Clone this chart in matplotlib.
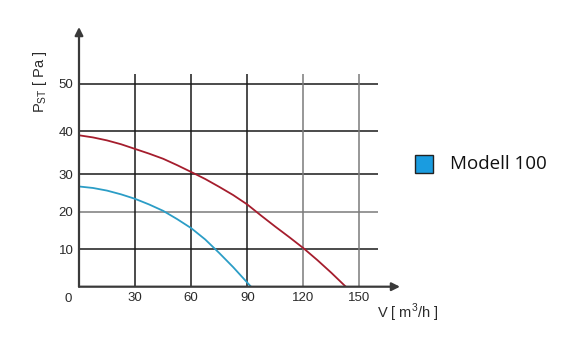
import matplotlib.pyplot as plt
import numpy as np
from matplotlib.patches import Rectangle

# curve readings (V in m3/h, P in Pa)
v_red = [0, 7.5, 15, 22.5, 30, 37.5, 45, 52.5, 60, 67.5, 75, 82.5, 90,
         97.5, 105, 112.5, 120, 127.5, 135, 142.7]
p_red = [39.1, 38.6, 37.9, 37.0, 35.9, 34.8, 33.6, 32.1, 30.5, 28.7, 26.6, 24.4, 21.9,
         18.9, 16.0, 13.2, 10.3, 7.1, 3.7, 0]
v_blue = [0, 7.5, 15, 22.5, 30, 37.5, 45, 52.5, 60, 67.5, 75, 82.5, 92]
p_blue = [26.7, 26.3, 25.6, 24.6, 23.4, 21.9, 20.2, 18.0, 15.6, 12.6, 9.0, 5.2, 0]

x_ticks = [30, 60, 90, 120, 150]
y_ticks = [10, 20, 30, 40, 50]
legend_label = 'Modell 100'

# the original drawing has an uneven pressure axis
y_data = [-10, 0, 10, 20, 30, 40, 50, 100]
y_pix = [-37.4, 0, 37.4, 75.0, 112.4, 155.0, 202.4, 439.4]


def fwd(y):
    return np.interp(y, y_data, y_pix)


def inv(p):
    return np.interp(p, y_pix, y_data)


W, H = 572, 357
fig = plt.figure(figsize=(W / 100, H / 100), dpi=100)
ax = fig.add_axes([79 / W, (H - 286.7) / H, (400 - 79) / W, (286.7 - 27) / H])
ax.set_yscale('function', functions=(fwd, inv))
ax.set_xlim(0, 171.7)
ax.set_ylim(0, 62)
for s in ax.spines.values():
    s.set_visible(False)

dark = '#1a1a1a'
grey = '#7a7a7a'
for y in y_ticks:
    ax.hlines(y, 0, 160, color=grey if y == 20 else dark, lw=1.1, zorder=1)
for x in x_ticks:
    ax.vlines(x, 0, 52, color=grey if x >= 120 else dark, lw=1.1, zorder=1)

ax.plot(v_red, p_red, color='#a51d2d', lw=1.3, zorder=3)
ax.plot(v_blue, p_blue, color='#2b9dc6', lw=1.3, zorder=3)

# axes with arrows
ax.annotate('', xy=(0, 62), xytext=(0, 0),
            arrowprops=dict(arrowstyle='-|>', color='#3a3a3a', lw=1.6,
                            mutation_scale=12, shrinkA=0, shrinkB=0), zorder=4)
ax.annotate('', xy=(171.7, 0), xytext=(0, 0),
            arrowprops=dict(arrowstyle='-|>', color='#3a3a3a', lw=1.6,
                            mutation_scale=12, shrinkA=0, shrinkB=0), zorder=4)

ax.set_xticks(x_ticks)
ax.set_yticks(y_ticks)
ax.tick_params(length=0, labelsize=9.5, labelcolor='#2a2a2a')
ax.tick_params(axis='x', pad=4)
ax.tick_params(axis='y', pad=4)
for lab in ax.get_xticklabels() + ax.get_yticklabels():
    lab.set_fontfamily('Liberation Sans')
ax.text(-4, -3.4, '0', ha='right', va='center', fontsize=9.5, color='#2a2a2a',
        family='Liberation Sans', clip_on=False)

fig.text(40 / W, 1 - 82 / H, 'P$_{\\mathregular{ST}}$ [ Pa ]', rotation=90,
         ha='center', va='center', fontsize=10.5, color='#2a2a2a', family='Liberation Sans')
fig.text(408 / W, 1 - 313 / H, 'V [ m$^{\\mathregular{3}}$/h ]', ha='center', va='center',
         fontsize=10.5, color='#2a2a2a', family='Liberation Sans')

# legend
fig.add_artist(Rectangle((415 / W, 1 - 173 / H), 18 / W, 18 / H, transform=fig.transFigure,
                         facecolor='#1a9ce0', edgecolor='#222222', lw=1))
fig.text(450 / W, 1 - 164 / H, legend_label, ha='left', va='center', fontsize=13.5,
         color='#111111', family='Open Sans')

fig.savefig('out.png', dpi=100, facecolor='white')
